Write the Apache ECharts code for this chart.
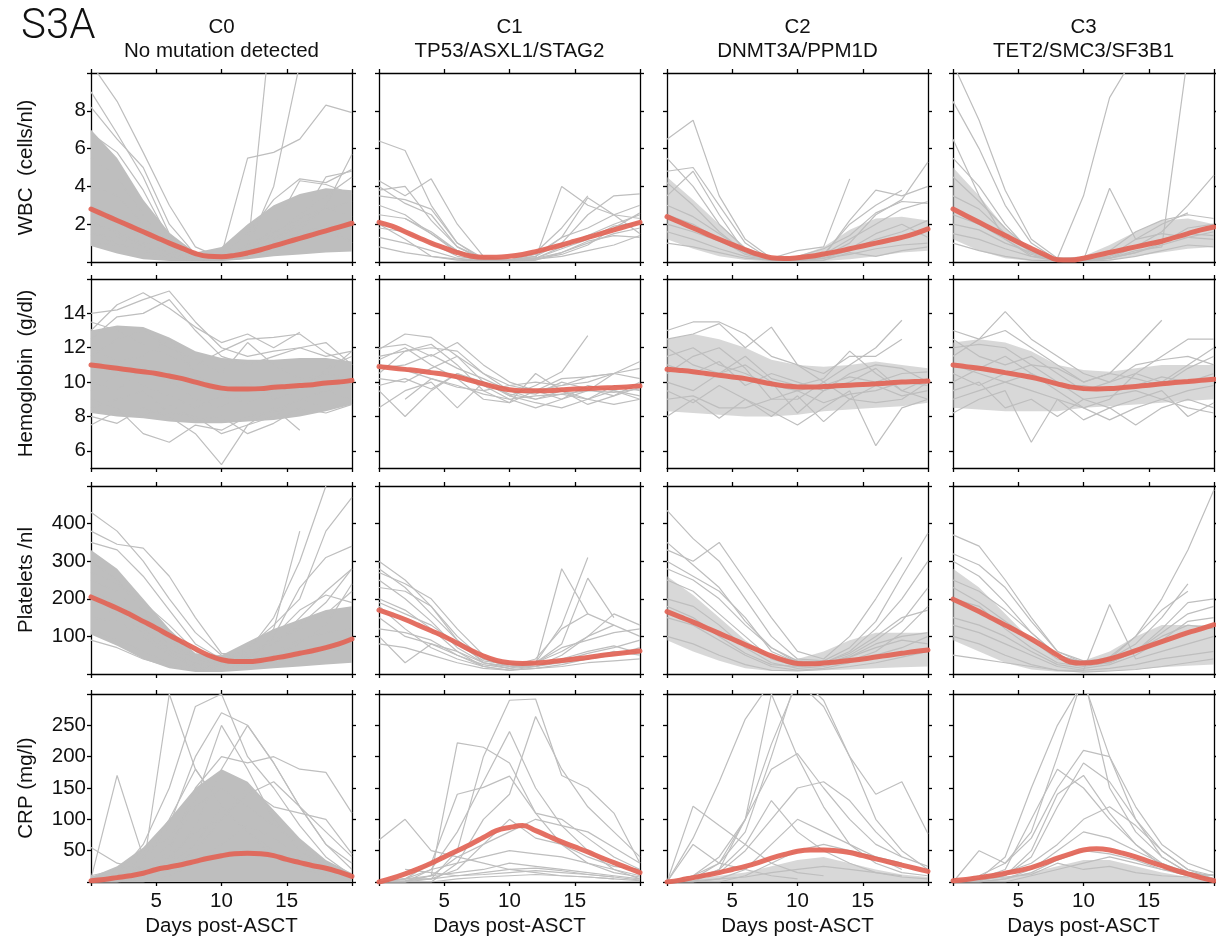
<!DOCTYPE html>
<html><head><meta charset="utf-8">
<script src="https://cdn.jsdelivr.net/npm/echarts@6/dist/echarts.min.js"></script>
<style>html,body{margin:0;padding:0;background:#fff}#c{width:1216px;height:941px}</style>
</head><body><div id="c"></div><script>
// ---------- data ----------
const days = [0,1,2,3,4,5,6,7,8,9,10,11,12,13,14,15,16,17,18,19,20];
const days2 = [0,2,4,6,8,10,12,14,16,18,20];
const colTitles = ['C0','C1','C2','C3'];
const colSubtitles = ['No mutation detected','TP53/ASXL1/STAG2','DNMT3A/PPM1D','TET2/SMC3/SF3B1'];
const rowNames = ['WBC  (cells/nl)','Hemoglobin  (g/dl)','Platelets /nl','CRP (mg/l)'];
const xLabel = 'Days post-ASCT';
const xTickValues = [0,5,10,15,20];
const xLabelValues = [5,10,15];
const yRanges = [[0,10],[5,16],[0,500],[0,300]];
const yTickValues = [[0,2,4,6,8,10],[6,8,10,12,14,16],[0,100,200,300,400,500],[0,50,100,150,200,250,300]];
const yLabelValues = [[2,4,6,8],[6,8,10,12,14],[100,200,300,400],[50,100,150,200,250]];

// ----- WBC -----
const wbc_mean_c0 = [2.8,2.5,2.2,1.9,1.6,1.3,1.0,0.72,0.45,0.3,0.28,0.35,0.48,0.65,0.85,1.05,1.25,1.45,1.65,1.85,2.05];
const wbc_mean_c1 = [2.1,1.9,1.6,1.3,1.0,0.75,0.5,0.32,0.25,0.25,0.3,0.4,0.55,0.72,0.9,1.1,1.3,1.5,1.7,1.9,2.1];
const wbc_mean_c2 = [2.4,2.1,1.8,1.5,1.2,0.92,0.65,0.4,0.22,0.18,0.22,0.3,0.42,0.55,0.7,0.85,1.0,1.15,1.3,1.5,1.75];
const wbc_mean_c3 = [2.8,2.45,2.1,1.75,1.4,1.05,0.72,0.4,0.12,0.1,0.2,0.35,0.5,0.65,0.8,0.95,1.1,1.3,1.5,1.7,1.85];
const wbc_lo_c0 = [0.85,0.45,0.15,0.05,0.02,0.05,0.15,0.3,0.4,0.5,0.55];
const wbc_hi_c0 = [7.0,5.5,3.3,1.55,0.5,0.8,2.0,3.0,3.6,3.9,3.8];
const wbc_lo_c2 = [1.2,0.7,0.3,0.1,0.02,0.02,0.05,0.15,0.3,0.5,0.6];
const wbc_hi_c2 = [4.5,3.3,2.0,0.8,0.25,0.3,0.8,1.7,2.3,2.4,2.2];
const wbc_lo_c3 = [1.2,0.6,0.2,0.05,0.02,0.02,0.1,0.3,0.5,0.7,0.8];
const wbc_hi_c3 = [5.0,3.5,1.8,0.7,0.2,0.3,0.9,1.6,2.2,2.3,2.0];
const wbc_lines_c0 = [
 [10.5,8.5,5.8,3.0,0.8,0.2,0.5,1.5,2.5,3.5,4.5],
 [8.2,6.5,5.0,2.0,0.4,0.1,0.3,1.0,2.0,2.8,3.2],
 [1.0,0.9,0.6,0.3,0.1,0.4,5.5,5.8,6.5,8.3,7.9],
 [1.5,1.0,0.5,0.2,0.1,0.3,0.5,14,null,null,null],
 [2.2,1.5,0.8,0.3,0.1,0.2,0.8,4.0,10.5,null,null],
 [3.0,2.2,1.2,0.5,0.15,0.1,0.4,1.2,2.2,4.5,4.8],
 [5.5,4.5,2.5,0.9,0.2,0.1,0.2,0.6,1.1,1.5,1.2],
 [1.5,1.3,0.8,0.4,0.2,0.2,0.5,1.8,4.3,4.1,3.6],
 [6.8,5.8,3.8,1.2,0.3,0.4,1.5,3.3,4.4,4.2,4.9],
 [2.0,1.6,1.0,0.5,0.3,0.4,0.9,1.6,2.3,2.9,2.4],
 [4.0,3.5,2.0,0.7,0.1,0.2,0.7,0.9,1.5,2.0,1.0],
 [9.0,6.8,4.5,1.5,0.3,0.2,0.4,1.0,1.7,3.0,5.7]
];
const wbc_lines_c1 = [
 [6.4,5.9,3.0,1.0,0.1,0.05,0.1,null,null,null,null],
 [4.3,3.5,4.4,2.0,0.3,0.1,0.3,1.0,2.5,3.5,3.6],
 [3.8,4.0,2.2,0.8,0.1,0.1,0.2,4.0,3.0,2.5,1.5],
 [2.5,2.3,1.5,0.5,0.1,0.1,0.3,1.3,3.4,2.5,3.0],
 [1.3,1.0,0.6,0.2,0.05,0.05,0.2,0.8,1.4,2.0,2.5],
 [3.0,2.5,1.5,0.6,0.1,0.1,0.2,0.5,1.0,1.5,1.8],
 [2.0,1.2,0.3,0.1,0.05,0.1,0.5,1.8,3.5,null,null],
 [0.8,0.5,0.3,0.15,0.1,0.1,0.15,0.3,0.6,0.9,1.4],
 [3.5,3.3,2.8,1.0,0.2,0.1,0.2,0.7,1.2,1.9,2.1],
 [1.8,1.6,1.0,0.3,0.1,0.1,0.4,1.3,1.8,2.5,2.3],
 [null,2.3,1.6,0.6,0.1,0.05,0.1,0.5,1.1,1.4,1.3],
 [4.0,3.1,2.5,0.8,0.2,0.05,0.15,0.4,0.9,1.8,2.6]
];
const wbc_lines_c2 = [
 [6.5,7.5,3.5,1.2,0.2,0.1,0.4,1.2,2.0,2.8,3.2],
 [4.8,5.0,3.0,1.0,0.1,0.05,0.3,2.2,3.8,3.5,4.0],
 [3.5,4.8,2.5,0.5,0.1,0.3,0.7,1.4,2.6,3.2,3.1],
 [2.0,1.6,1.1,0.5,0.2,0.6,0.8,4.4,null,null,null],
 [3.0,2.4,1.5,0.6,0.15,0.1,0.2,0.6,1.2,1.6,2.2],
 [1.0,0.8,0.5,0.2,0.1,0.1,0.2,0.4,0.7,0.9,1.0],
 [4.2,3.0,1.6,0.5,0.1,0.1,0.3,1.0,2.5,3.3,5.3],
 [2.5,2.0,1.2,0.4,0.1,0.1,0.1,0.5,0.3,0.6,0.8],
 [5.5,4.0,2.0,0.7,0.2,0.2,0.4,2.0,3.0,3.8,null],
 [1.6,1.2,0.7,0.3,0.1,0.1,0.2,0.7,1.5,2.0,1.3]
];
const wbc_lines_c3 = [
 [10.5,7.5,3.8,1.2,0.2,0.1,0.3,0.8,1.2,1.5,1.4],
 [8.5,6.0,3.0,1.0,0.1,0.1,0.2,0.5,0.9,1.3,1.6],
 [1.5,1.2,0.7,0.3,0.2,3.5,8.7,11,null,null,null],
 [4.5,3.2,1.8,0.6,0.1,0.1,0.2,0.6,0.8,11,null],
 [3.5,2.8,1.5,0.5,0.1,0.05,0.2,0.8,1.6,3.0,4.6],
 [1.0,0.6,0.3,0.1,0.05,0.1,3.9,1.2,1.5,1.3,1.2],
 [5.5,4.0,2.0,0.5,0.1,0.1,0.3,1.2,2.0,2.6,null],
 [2.5,2.0,1.2,0.4,0.05,0.05,0.2,0.5,1.0,1.8,2.0],
 [6.5,3.5,1.2,0.3,0.05,0.05,0.1,0.3,0.6,0.9,0.8],
 [2.0,1.7,1.0,0.5,0.2,0.2,0.6,1.6,2.2,2.5,2.3]
];

// ----- Hemoglobin -----
const hb_mean_c0 = [11.0,10.9,10.8,10.7,10.6,10.5,10.35,10.2,10.0,9.8,9.65,9.6,9.6,9.62,9.7,9.75,9.8,9.85,9.95,10.0,10.1];
const hb_mean_c1 = [10.9,10.82,10.74,10.66,10.55,10.45,10.3,10.1,9.9,9.7,9.55,9.5,9.5,9.5,9.55,9.6,9.62,9.65,9.68,9.72,9.78];
const hb_mean_c2 = [10.75,10.68,10.6,10.5,10.4,10.3,10.2,10.05,9.9,9.78,9.72,9.72,9.74,9.78,9.82,9.86,9.9,9.95,10.0,10.03,10.06];
const hb_mean_c3 = [11.0,10.9,10.8,10.68,10.55,10.42,10.28,10.1,9.9,9.72,9.62,9.6,9.62,9.68,9.75,9.82,9.9,9.97,10.03,10.1,10.16];
const hb_lo_c0 = [8.2,8.0,7.9,7.7,7.6,7.6,7.7,7.8,8.0,8.3,8.7];
const hb_hi_c0 = [13.0,13.3,13.2,12.6,11.8,11.4,11.3,11.3,11.4,11.4,11.2];
const hb_lo_c2 = [8.3,8.2,8.1,8.0,8.0,8.1,8.3,8.4,8.5,8.6,8.8];
const hb_hi_c2 = [12.5,12.8,12.5,12.0,11.3,11.0,10.9,11.0,11.2,11.0,10.8];
const hb_lo_c3 = [8.5,8.4,8.3,8.3,8.3,8.5,8.6,8.7,8.8,8.9,9.0];
const hb_hi_c3 = [12.3,12.5,12.3,11.8,11.0,10.7,10.6,10.8,11.0,11.0,11.0];
const hb_lines_c0 = [
 [14.0,14.2,14.8,15.3,13.5,12.0,11.5,11.8,12.0,11.5,11.8],
 [13.0,14.5,15.2,14.3,13.2,12.3,12.8,12.0,12.9,null,null],
 [12.5,13.8,14.0,14.8,13.0,11.5,11.0,11.5,12.0,12.3,11.0],
 [9.0,8.5,7.0,6.5,7.5,7.2,8.0,8.3,9.0,9.5,9.0],
 [8.0,7.6,8.5,8.0,7.0,5.2,7.5,8.5,7.2,null,null],
 [7.5,8.3,8.0,8.7,7.8,8.0,7.0,7.6,8.5,8.2,8.7],
 [11.5,12.5,13.0,12.0,11.3,10.5,12.3,11.0,10.2,10.5,11.8],
 [10.0,9.5,10.8,10.0,9.0,8.5,9.5,10.0,9.8,10.5,10.2],
 [12.0,11.2,11.5,12.5,10.5,9.5,10.0,9.0,9.5,10.8,11.5],
 [9.5,10.5,9.8,9.2,8.5,9.2,8.8,9.5,10.0,9.5,9.8],
 [13.5,13.0,12.2,11.5,11.0,11.8,12.5,12.6,12.8,11.7,11.0],
 [8.5,9.0,9.5,8.2,8.0,7.0,7.5,8.0,9.0,8.5,8.8]
];
const hb_lines_c1 = [
 [11.9,12.8,12.6,11.5,10.0,9.2,9.8,10.6,12.7,null,null],
 [10.5,11.8,12.0,11.8,10.5,9.5,9.0,9.3,9.0,9.5,9.0],
 [9.5,8.0,9.5,10.5,9.8,9.0,8.5,9.0,9.5,10.5,11.2],
 [11.5,11.8,12.2,11.0,9.5,8.8,10.5,9.5,8.7,9.2,10.0],
 [10.2,10.0,10.8,11.5,10.5,9.8,9.5,10.2,10.3,10.5,10.2],
 [12.0,12.2,11.5,12.3,11.0,10.0,9.5,9.0,9.8,9.5,9.2],
 [8.5,9.5,10.0,8.5,10.0,9.2,8.8,8.5,9.0,8.7,9.0],
 [11.0,10.7,10.2,9.8,9.3,9.0,9.2,9.3,9.5,9.4,9.6],
 [null,9.0,10.2,9.7,9.5,9.8,10.0,9.8,10.3,10.5,null],
 [10.8,11.0,11.6,10.8,10.2,9.5,9.3,10.0,9.6,9.2,9.7],
 [11.3,12.0,11.0,10.2,9.0,8.8,9.5,9.8,10.0,10.5,10.8],
 [9.8,10.2,9.6,10.5,10.0,9.3,9.0,9.5,9.0,9.8,9.5]
];
const hb_lines_c2 = [
 [13.0,13.5,13.5,12.8,11.5,11.0,10.0,11.0,12.0,13.6,null],
 [12.5,12.8,13.4,12.0,13.2,11.0,10.5,11.5,11.5,12.5,null],
 [8.0,9.0,7.9,9.0,8.3,7.5,8.5,9.5,6.3,8.5,9.0],
 [10.0,9.5,10.5,11.0,10.0,8.2,9.5,10.0,10.8,9.5,9.0],
 [11.5,12.0,11.0,10.5,9.8,9.5,9.8,10.3,10.0,10.5,10.6],
 [9.0,9.2,8.5,8.5,9.0,9.5,8.8,9.3,9.5,10.0,9.8],
 [12.0,11.0,10.5,11.5,10.2,9.8,10.2,11.8,10.5,9.5,10.2],
 [10.5,11.5,12.0,10.8,9.0,9.0,10.0,9.0,9.8,9.2,9.5],
 [9.5,8.8,9.8,9.0,8.0,9.2,7.7,9.0,8.8,9.0,10.0],
 [11.0,10.5,11.2,9.8,10.5,10.0,9.5,10.5,11.0,10.8,10.0]
];
const hb_lines_c3 = [
 [13.0,12.5,14.1,12.5,11.5,10.5,10.0,10.5,11.5,12.5,12.5],
 [11.5,12.5,13.0,12.0,11.0,10.0,10.5,12.0,13.6,null,null],
 [9.5,10.0,8.5,9.0,8.0,9.0,8.5,7.5,8.5,9.0,8.5],
 [8.2,9.0,9.5,6.5,9.0,8.5,7.8,8.5,9.0,8.5,8.2],
 [12.5,11.5,11.0,11.5,10.5,9.5,10.0,11.0,11.3,11.5,11.0],
 [10.0,10.8,11.5,10.5,9.5,8.5,9.0,10.5,10.0,11.0,12.0],
 [11.0,10.5,10.0,10.5,9.8,9.8,9.5,9.8,10.3,10.0,10.5],
 [9.0,9.5,10.0,9.5,9.0,7.8,8.5,9.0,9.5,8.0,8.8],
 [12.0,12.2,12.0,11.0,10.8,10.0,10.5,10.2,9.8,10.8,11.5],
 [10.5,9.8,10.5,11.0,10.0,9.0,9.2,9.5,9.0,9.5,9.8]
];

// ----- Platelets -----
const plt_mean_c0 = [205,190,175,158,140,122,103,85,67,50,38,33,33,36,42,48,55,62,70,80,93];
const plt_mean_c1 = [170,158,145,130,115,100,82,64,48,36,30,28,29,32,36,40,44,49,53,57,61];
const plt_mean_c2 = [166,152,138,123,108,93,78,63,48,36,28,27,29,32,36,40,45,50,55,60,64];
const plt_mean_c3 = [199,183,166,148,130,112,93,72,50,32,29,32,40,50,62,74,86,98,110,120,131];
const plt_lo_c0 = [105,75,40,15,5,5,10,15,20,25,30];
const plt_hi_c0 = [330,280,200,120,55,50,85,120,145,170,180];
const plt_lo_c2 = [90,60,35,15,8,8,10,12,15,18,20];
const plt_hi_c2 = [260,210,150,90,45,40,60,90,110,110,110];
const plt_lo_c3 = [90,60,30,12,6,5,8,12,18,22,25];
const plt_hi_c3 = [280,230,160,90,40,35,60,100,130,130,130];
const plt_lines_c0 = [
 [430,380,300,200,110,50,45,80,150,220,280],
 [380,345,335,260,150,55,50,120,380,null,null],
 [350,330,260,170,80,40,60,150,300,500,null],
 [250,220,150,80,40,30,70,130,200,380,470],
 [200,170,110,60,25,20,40,100,230,310,340],
 [120,90,60,30,15,20,45,80,130,190,280],
 [300,250,170,90,40,25,35,60,90,110,120],
 [180,160,120,70,30,15,20,30,45,60,70],
 [90,70,40,20,10,15,25,40,55,70,90],
 [270,240,190,130,60,30,30,50,80,130,240],
 [150,140,100,50,20,10,30,100,170,210,190],
 [220,190,140,100,45,30,50,90,120,160,220]
];
const plt_lines_c1 = [
 [300,250,180,100,40,20,20,30,40,60,50],
 [270,240,200,120,50,20,25,280,160,null,null],
 [230,220,180,90,30,15,30,130,310,null,null],
 [150,100,80,60,30,20,30,80,255,150,null],
 [200,170,120,60,20,10,20,50,100,160,130],
 [100,30,80,50,25,15,20,40,60,75,55],
 [190,160,130,80,35,25,30,70,90,110,120],
 [120,110,90,50,20,10,15,25,40,50,70],
 [250,200,140,70,30,20,40,120,160,130,100],
 [80,70,50,30,15,10,15,20,30,35,40],
 [180,120,70,40,20,30,20,35,55,70,90],
 [280,230,160,90,40,25,30,60,100,130,null]
];
const plt_lines_c2 = [
 [435,360,300,200,100,40,35,70,140,260,375],
 [330,300,350,250,150,60,40,100,200,310,null],
 [300,260,220,150,60,30,30,60,120,200,300],
 [250,220,160,100,40,20,25,50,90,140,230],
 [200,180,130,70,30,15,20,35,60,110,180],
 [150,130,90,50,20,10,15,30,50,70,100],
 [100,80,50,25,10,8,12,20,30,45,60],
 [280,250,200,130,70,30,30,45,70,90,80],
 [180,150,100,55,25,20,25,45,80,100,110],
 [350,290,230,140,70,35,30,55,100,150,170]
];
const plt_lines_c3 = [
 [370,340,250,150,60,35,40,100,200,330,490],
 [320,290,230,140,60,30,30,60,120,190,200],
 [100,80,50,25,10,10,185,40,60,80,100],
 [250,220,170,110,50,30,40,80,150,240,null],
 [200,180,120,70,30,20,30,60,110,160,180],
 [50,40,30,20,10,5,8,12,20,30,40],
 [150,130,100,60,25,15,25,50,90,140,150],
 [230,190,140,90,40,25,30,60,100,130,120],
 [300,260,190,110,50,30,45,100,170,220,null],
 [130,110,80,50,20,10,15,25,40,50,60]
];

// ----- CRP -----
const crp_mean_c0 = [2,4,7,10,14,20,24,28,33,38,42,45,46,45,42,36,31,26,22,16,9];
const crp_mean_c1 = [0,6,13,21,30,40,50,60,71,82,87,90,82,73,64,56,48,39,31,23,15];
const crp_mean_c2 = [0,3,7,11,15,20,25,31,38,44,49,51,51,50,47,42,37,32,27,22,17];
const crp_mean_c3 = [2,4,7,10,14,18,23,30,38,45,51,53,51,46,40,33,26,19,13,7,2];
const crp_lo_c0 = [0,0,0,0,0,0,0,0,0,0,0];
const crp_hi_c0 = [8,25,55,100,150,180,160,115,70,35,14];
const crp_lo_c2 = [0,0,0,0,0,0,0,0,0,0,0];
const crp_hi_c2 = [2,5,10,15,25,35,40,30,20,12,8];
const crp_lo_c3 = [0,0,0,0,0,0,0,0,0,0,0];
const crp_hi_c3 = [2,4,8,15,25,35,35,25,15,8,3];
const crp_lines_c0 = [
 [5,170,40,30,60,120,80,50,30,10,5],
 [55,30,20,300,180,120,80,50,30,15,8],
 [0,10,60,150,280,300,200,150,90,40,10],
 [0,5,30,90,200,270,250,190,120,60,20],
 [0,5,15,50,150,200,190,200,180,175,110],
 [0,0,10,30,90,180,250,190,120,60,30],
 [2,8,25,60,120,150,120,90,60,30,10],
 [0,0,5,20,50,100,150,120,110,100,45],
 [5,10,40,100,180,120,80,40,20,10,5],
 [0,5,20,40,80,100,140,160,120,80,40],
 [0,0,0,10,30,60,90,70,40,20,10],
 [10,20,50,70,130,250,180,100,50,25,10]
];
const crp_lines_c1 = [
 [67,100,50,40,30,20,15,10,8,5,null],
 [0,2,10,222,215,190,110,60,30,15,8],
 [0,0,5,50,200,290,292,170,150,110,30],
 [0,0,0,30,100,140,264,180,120,80,40],
 [0,5,20,80,160,240,150,90,50,20,5],
 [0,5,30,140,151,169,110,100,70,40,20],
 [0,0,10,40,60,80,100,90,80,55,30],
 [0,0,20,30,40,50,45,40,30,20,10],
 [0,5,10,15,20,30,25,20,15,10,5],
 [0,2,5,10,15,20,22,18,12,8,3],
 [null,20,15,10,12,15,18,15,12,8,null],
 [0,0,0,5,8,10,12,10,8,5,2],
 [0,5,5,20,60,100,70,60,40,25,20]
];
const crp_lines_c2 = [
 [0,70,160,260,320,null,null,null,null,null,null],
 [0,121,90,60,30,15,10,null,null,null,null],
 [0,60,30,20,10,5,null,null,null,null,null],
 [0,10,40,100,220,320,280,200,100,50,20],
 [0,5,20,100,300,200,120,60,30,15,10],
 [0,5,30,80,200,330,290,200,140,160,77],
 [0,10,30,100,180,205,150,100,60,40,25],
 [0,0,5,20,60,100,80,60,40,20,null],
 [0,0,0,10,30,50,60,50,40,30,null],
 [0,5,15,50,100,150,160,130,80,40,null],
 [0,2,5,8,15,20,25,20,15,8,5],
 [0,0,20,60,130,80,50,30,15,10,null]
];
const crp_lines_c3 = [
 [0,5,40,150,250,320,200,100,50,20,5],
 [0,10,30,80,200,330,150,80,40,15,5],
 [0,50,30,70,150,210,200,120,60,30,15],
 [0,5,20,100,180,150,100,60,30,15,10],
 [0,2,10,40,120,190,160,100,40,15,5],
 [0,0,5,20,50,80,70,50,30,10,5],
 [0,5,15,30,60,100,120,90,50,20,10],
 [0,0,0,10,20,30,40,30,20,10,5],
 [0,3,10,50,140,170,110,60,25,10,null],
 [0,0,5,15,35,50,45,35,20,15,10],
 [2,5,8,12,30,20,25,15,10,8,12]
];

// ---------- assembly ----------
const means = [
 [wbc_mean_c0,wbc_mean_c1,wbc_mean_c2,wbc_mean_c3],
 [hb_mean_c0,hb_mean_c1,hb_mean_c2,hb_mean_c3],
 [plt_mean_c0,plt_mean_c1,plt_mean_c2,plt_mean_c3],
 [crp_mean_c0,crp_mean_c1,crp_mean_c2,crp_mean_c3]
];
const bandsLo = [
 [wbc_lo_c0,null,wbc_lo_c2,wbc_lo_c3],
 [hb_lo_c0,null,hb_lo_c2,hb_lo_c3],
 [plt_lo_c0,null,plt_lo_c2,plt_lo_c3],
 [crp_lo_c0,null,crp_lo_c2,crp_lo_c3]
];
const bandsHi = [
 [wbc_hi_c0,null,wbc_hi_c2,wbc_hi_c3],
 [hb_hi_c0,null,hb_hi_c2,hb_hi_c3],
 [plt_hi_c0,null,plt_hi_c2,plt_hi_c3],
 [crp_hi_c0,null,crp_hi_c2,crp_hi_c3]
];
const lineSets = [
 [wbc_lines_c0,wbc_lines_c1,wbc_lines_c2,wbc_lines_c3],
 [hb_lines_c0,hb_lines_c1,hb_lines_c2,hb_lines_c3],
 [plt_lines_c0,plt_lines_c1,plt_lines_c2,plt_lines_c3],
 [crp_lines_c0,crp_lines_c1,crp_lines_c2,crp_lines_c3]
];

const FONT = "'Liberation Sans', Arial, Helvetica, sans-serif";
const FS = 20.5;
const GRAY = '#bebebe';
const RED = 'rgba(226,100,86,0.92)';
const bandOpacity = [1, 0, 0.6, 0.6];
const colLeft = [91, 379, 667, 953];
const colW = 261;
const rowTop = [73, 279, 486, 694];
const rowH = [189, 189, 188, 188];

const grids = [], xAxes = [], yAxes = [], series = [];
const axisLineStyle = {color:'#000', width:1.3};
for (let r = 0; r < 4; r++) {
  for (let c = 0; c < 4; c++) {
    const g = r*4 + c;
    grids.push({left: colLeft[c], top: rowTop[r], width: colW, height: rowH[r], outerBoundsMode:'none', containLabel:false});
    const lastRow = r === 3, firstCol = c === 0;
    xAxes.push({
      type:'value', gridIndex:g, position:'bottom', min:0, max:20, interval:5,
      axisLine:{show:true, onZero:false, lineStyle:axisLineStyle},
      axisTick:{show:true, inside:false, length:4, lineStyle:axisLineStyle, customValues:xTickValues},
      axisLabel:{show:lastRow, customValues:xLabelValues, fontSize:FS, fontFamily:FONT, color:'#111', margin:9},
      splitLine:{show:false},
      name: lastRow ? xLabel : '', nameLocation:'middle', nameGap:34,
      nameTextStyle:{fontSize:FS, fontFamily:FONT, color:'#111'}
    });
    xAxes.push({
      type:'value', gridIndex:g, position:'top', min:0, max:20, interval:5,
      axisLine:{show:true, onZero:false, lineStyle:axisLineStyle},
      axisTick:{show:true, inside:false, length:4, lineStyle:axisLineStyle, customValues:xTickValues},
      axisLabel:{show:false}, splitLine:{show:false}
    });
    yAxes.push({
      type:'value', gridIndex:g, position:'left', min:yRanges[r][0], max:yRanges[r][1],
      axisLine:{show:true, onZero:false, lineStyle:axisLineStyle},
      axisTick:{show:true, inside:false, length:4, lineStyle:axisLineStyle, customValues:yTickValues[r]},
      axisLabel:{show:firstCol, customValues:yLabelValues[r], fontSize:FS, fontFamily:FONT, color:'#111', margin:5},
      splitLine:{show:false},
      name: firstCol ? rowNames[r] : '', nameLocation:'middle', nameGap:54, nameRotate:90,
      nameTextStyle:{fontSize:FS, fontFamily:FONT, color:'#111'}
    });
    yAxes.push({
      type:'value', gridIndex:g, position:'right', min:yRanges[r][0], max:yRanges[r][1],
      axisLine:{show:true, onZero:false, lineStyle:axisLineStyle},
      axisTick:{show:true, inside:false, length:4, lineStyle:axisLineStyle, customValues:yTickValues[r]},
      axisLabel:{show:false}, splitLine:{show:false}
    });
    const xi = g*2, yi = g*2;
    const lo = bandsLo[r][c], hi = bandsHi[r][c];
    if (lo && hi) {
      const op = bandOpacity[c];
      series.push({type:'custom', xAxisIndex:xi, yAxisIndex:yi, silent:true, z:1, clip:true,
        data:[[0, yRanges[r][0]]],
        renderItem:(params, api) => {
          const pts = [];
          for (let i = 0; i < days2.length; i++) pts.push(api.coord([days2[i], hi[i]]));
          for (let i = days2.length-1; i >= 0; i--) pts.push(api.coord([days2[i], lo[i]]));
          return {type:'polygon', shape:{points:pts}, style:{fill:GRAY, opacity:op}};
        }});
    }
    lineSets[r][c].forEach(arr => {
      series.push({type:'line', xAxisIndex:xi, yAxisIndex:yi, symbol:'none', silent:true, z:2, clip:true,
        lineStyle:{color:GRAY, width:1.2},
        data: days2.map((d,i)=>[d, arr[i]]).filter(p => p[1] !== null)});
    });
    series.push({type:'line', xAxisIndex:xi, yAxisIndex:yi, symbol:'none', silent:true, z:5, smooth:0.4, clip:true,
      lineStyle:{color:RED, width:5, cap:'round'},
      data: days.map((d,i)=>[d, means[r][c][i]])});
  }
}

const graphics = [{type:'text', left:21, top:6, style:{text:'S3A', font:"300 42px 'Roboto', 'Liberation Sans', sans-serif", fill:'#111'}}];
for (let c = 0; c < 4; c++) {
  const cx = colLeft[c] + colW/2;
  graphics.push({type:'text', x:cx, y:27, style:{text:colTitles[c], font:FS+"px "+FONT, fill:'#111', align:'center', verticalAlign:'middle'}});
  graphics.push({type:'text', x:cx, y:51, style:{text:colSubtitles[c], font:FS+"px "+FONT, fill:'#111', align:'center', verticalAlign:'middle'}});
}

const chart = echarts.init(document.getElementById('c'), null, {renderer:'canvas'});
chart.setOption({
  animation:false,
  backgroundColor:'#fff',
  grid:grids, xAxis:xAxes, yAxis:yAxes, series:series, graphic:graphics
});
</script></body></html>
